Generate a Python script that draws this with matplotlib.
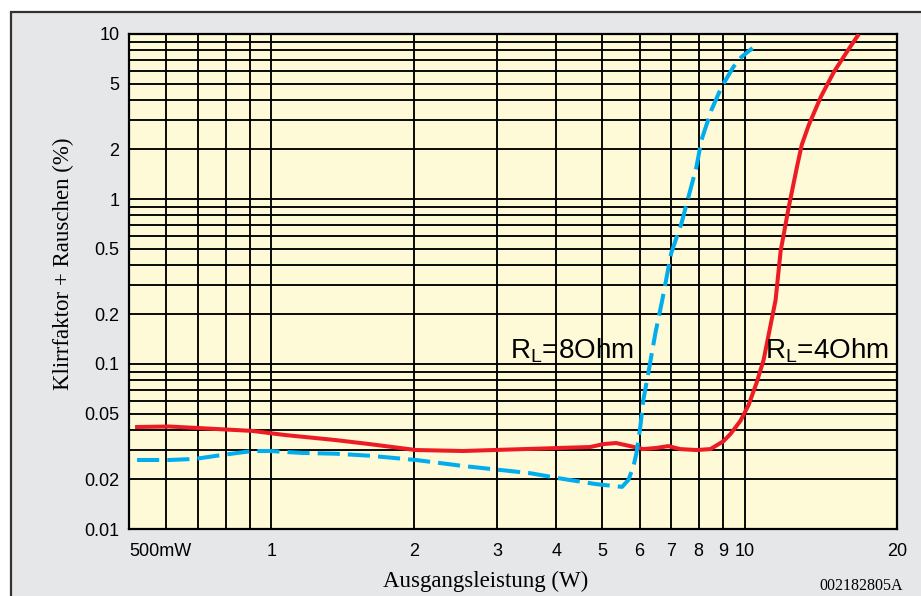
import matplotlib
matplotlib.use("Agg")
import matplotlib.pyplot as plt
from matplotlib.patches import Rectangle
import numpy as np

# ---- data ----
power_4ohm = [0.515, 0.608, 0.714, 0.912, 1.07, 1.366, 1.613, 2.02, 2.54, 4.72, 5.03, 5.35,
              5.73, 6.11, 6.51, 6.90, 7.31, 7.91, 8.47, 9.03, 9.34, 9.80, 10.2, 10.6, 10.97,
              11.63, 11.92, 12.39, 12.89, 13.21, 13.67, 14.49, 15.44, 16.45, 17.44]
thd_4ohm = [0.0415, 0.0418, 0.0408, 0.0393, 0.0371, 0.0346, 0.0327, 0.0301, 0.0297, 0.0314,
            0.0327, 0.0332, 0.0318, 0.0305, 0.0310, 0.0318, 0.0305, 0.0301, 0.0305, 0.0341,
            0.0377, 0.0452, 0.0565, 0.0767, 0.1057, 0.244, 0.484, 0.882, 1.54, 2.13, 2.81,
            4.15, 5.88, 7.78, 10.0]

power_8ohm = [0.520, 0.608, 0.690, 0.787, 0.912, 0.990, 1.163, 1.366, 1.613, 2.02, 2.54,
              3.52, 4.14, 4.86, 5.51, 5.68, 5.82, 5.91, 6.02, 6.11, 6.26, 6.48, 6.70, 7.00,
              7.36, 7.91, 8.11, 8.51, 8.94, 9.47, 9.85, 10.40]
thd_8ohm = [0.0262, 0.0262, 0.0266, 0.0281, 0.0297, 0.0297, 0.0289, 0.0286, 0.0278, 0.0262,
            0.0241, 0.0218, 0.0201, 0.0187, 0.0180, 0.0198, 0.0238, 0.0289, 0.0415, 0.0605,
            0.0881, 0.154, 0.244, 0.471, 0.716, 1.56, 2.28, 3.46, 4.77, 6.31, 7.26, 8.22]

x_ticks = [0.5, 1, 2, 3, 4, 5, 6, 7, 8, 9, 10, 20]
x_tick_labels = ["500mW", "1", "2", "3", "4", "5", "6", "7", "8", "9", "10", "20"]
x_grid = [0.6, 0.7, 0.8, 0.9]
y_ticks = [0.01, 0.02, 0.05, 0.1, 0.2, 0.5, 1, 2, 5, 10]
y_tick_labels = ["0.01", "0.02", "0.05", "0.1", "0.2", "0.5", "1", "2", "5", "10"]
y_grid = [m * d for d in (0.01, 0.1, 1) for m in (3, 4, 6, 7, 8, 9)]

label_8 = "R$_\\mathrm{L}$=8Ohm"
label_4 = "R$_\\mathrm{L}$=4Ohm"

plt.rcParams["mathtext.fontset"] = "custom"
plt.rcParams["mathtext.rm"] = "Liberation Sans"
plt.rcParams["font.family"] = ["Liberation Sans", "DejaVu Sans"]

W, H = 921, 596
fig = plt.figure(figsize=(W / 100, H / 100), dpi=100)
fig.patch.set_facecolor("white")

# outer grey frame
frame = Rectangle((11 / W, -0.05), 1.2, (596 - 12) / H + 0.05,
                  transform=fig.transFigure, facecolor="#e6e7e8",
                  edgecolor="#333333", linewidth=1.6, zorder=-10)
fig.add_artist(frame)

ax = fig.add_axes([129 / W, (596 - 529) / H, 768 / W, 495 / H])
ax.set_zorder(1)
ax.set_facecolor("#fef9d6")
ax.set_xscale("log")
ax.set_yscale("log")
ax.set_xlim(0.5, 21)
ax.set_ylim(0.01, 10)

ax.set_xticks(x_ticks)
ax.set_xticklabels(x_tick_labels)
ax.set_xticks(x_grid, minor=True)
ax.set_yticks(y_ticks)
ax.set_yticklabels(y_tick_labels)
ax.set_yticks(y_grid, minor=True)
ax.xaxis.set_minor_formatter(matplotlib.ticker.NullFormatter())
ax.yaxis.set_minor_formatter(matplotlib.ticker.NullFormatter())
ax.tick_params(which="both", length=0, labelsize=13, colors="black")
ax.tick_params(axis="x", pad=10)
ax.tick_params(axis="y", pad=7)
ax.grid(True, which="both", color="black", linewidth=1.35)
ax.set_axisbelow(True)
for s in ax.spines.values():
    s.set_linewidth(1.6)
    s.set_color("black")

# the last x grid line (20) is not drawn inside the plot area
ax.xaxis.get_major_ticks()[-1].gridline.set_visible(False)

for lbl in ax.get_xticklabels():
    if lbl.get_text() == "500mW":
        lbl.set_horizontalalignment("left")
    if lbl.get_text() == "20":
        lbl.set_horizontalalignment("left")

ax.plot(power_4ohm, thd_4ohm, color="#ed1c24", linewidth=2.9, solid_capstyle="butt", zorder=3)
ax.plot(power_8ohm, thd_8ohm, color="#00aeef", linewidth=2.9, dashes=(5.5, 2.0),
        dash_capstyle="butt", zorder=3)

ax.text(3.19, 0.108, label_8, fontsize=20, ha="left", va="baseline", zorder=4)
ax.text(11.05, 0.108, label_4, fontsize=20, ha="left", va="baseline", zorder=4)

fig.text(486 / W, 1 - 581 / H, "Ausgangsleistung (W)", family="Liberation Serif",
         fontsize=16.5, ha="center", va="center")
fig.text(63 / W, 1 - 264 / H, "Klirrfaktor + Rauschen (%)", family="Liberation Serif",
         fontsize=16.5, ha="center", va="center", rotation=90)
fig.text(903 / W, 1 - 586 / H, "002182805A", family="Liberation Serif",
         fontsize=11.5, ha="right", va="center")

fig.savefig("out.png", dpi=100)
